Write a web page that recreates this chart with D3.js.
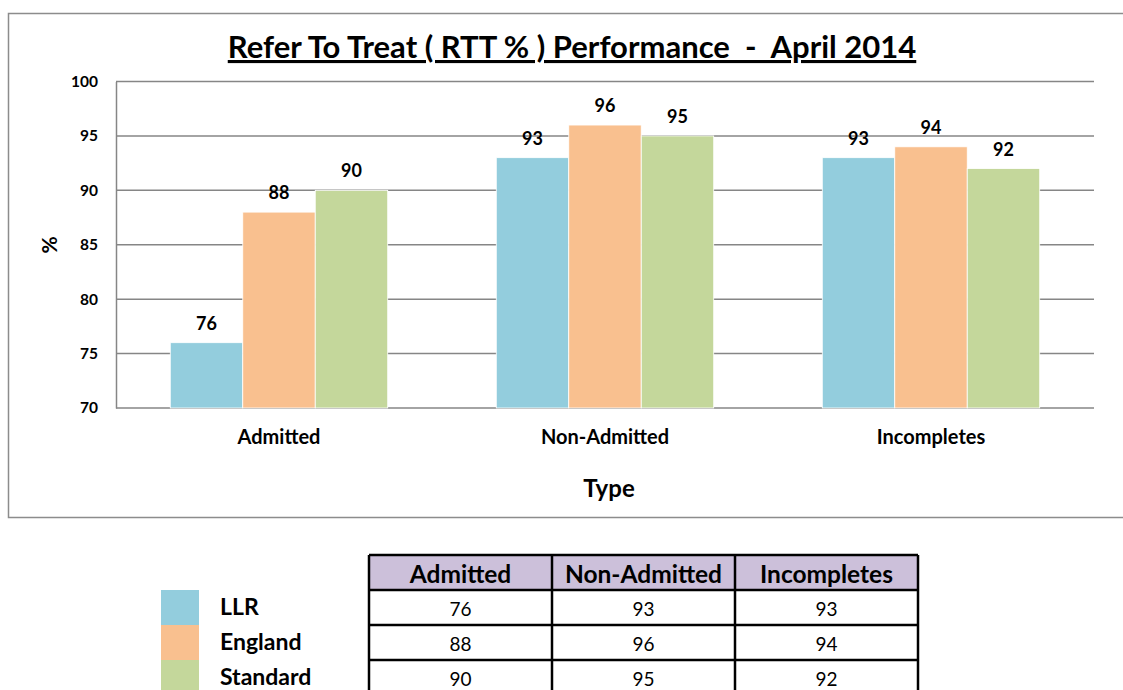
<!DOCTYPE html>
<html>
<head>
<meta charset="utf-8">
<script src="https://cdn.jsdelivr.net/npm/d3@7"></script>
<style>
  body { margin: 0; background: #fff; }
  svg text { font-family: Lato, "Open Sans", sans-serif; fill: #000; }
</style>
</head>
<body>
<svg id="chart" width="1123" height="690"></svg>
<script>
// data
const categories = ['Admitted', 'Non-Admitted', 'Incompletes'];
const seriesNames = ['LLR', 'England', 'Standard'];
const llr = [76, 93, 93];
const england = [88, 96, 94];
const standard = [90, 95, 92];
const yTicks = [70, 75, 80, 85, 90, 95, 100];
const colours = ['#93cddd', '#f9c08f', '#c4d79b'];

const seriesValues = [llr, england, standard];

const svg = d3.select('#chart');

// outer chart frame (right edge runs off the page)
svg.append('path')
    .attr('d', 'M1123,13.5 H8.5 V517.5 H1123')
    .attr('fill', 'none')
    .attr('stroke', '#8c8c8c')
    .attr('stroke-width', 1.5);

const plot = { left: 116, right: 1094, top: 81.5, bottom: 408 };

const yScale = d3.scaleLinear()
    .domain([70, 100])
    .range([plot.bottom, plot.top]);

// excel style gap width 150%
const x0 = d3.scaleBand()
    .domain(categories)
    .range([plot.left, plot.right])
    .paddingInner(0.333)
    .paddingOuter(0.1665);
const x1 = d3.scaleBand()
    .domain(seriesNames)
    .range([0, x0.bandwidth()]);

// gridlines
svg.append('g')
    .selectAll('line')
    .data(yTicks)
    .join('line')
    .attr('x1', plot.left)
    .attr('x2', plot.right)
    .attr('y1', d => yScale(d))
    .attr('y2', d => yScale(d))
    .attr('stroke', '#868686')
    .attr('stroke-width', 1.5);

// y axis
const yAxis = d3.axisLeft(yScale).tickValues(yTicks).tickSize(0).tickPadding(18);
const yg = svg.append('g')
    .attr('transform', `translate(${plot.left},0)`)
    .call(yAxis);
yg.select('.domain').attr('stroke', '#868686').attr('stroke-width', 1.5);
yg.selectAll('text')
    .attr('font-size', 15.5)
    .attr('font-weight', 'bold')
    .attr('font-family', 'Lato, sans-serif');

// x axis labels
const xAxis = d3.axisBottom(x0).tickSize(0).tickPadding(22);
const xg = svg.append('g')
    .attr('transform', `translate(0,${plot.bottom})`)
    .call(xAxis);
xg.select('.domain').remove();
xg.selectAll('text')
    .attr('font-size', 20)
    .attr('font-weight', 'bold')
    .attr('font-family', 'Lato, sans-serif');

// bars
const groups = svg.append('g')
    .selectAll('g')
    .data(categories)
    .join('g')
    .attr('transform', d => `translate(${x0(d)},0)`);

groups.selectAll('rect')
    .data((c, i) => seriesNames.map((s, j) => ({ s: s, v: seriesValues[j][i], j: j })))
    .join('rect')
    .attr('x', d => x1(d.s))
    .attr('y', d => yScale(d.v))
    .attr('width', x1.bandwidth())
    .attr('height', d => plot.bottom - yScale(d.v))
    .attr('fill', d => colours[d.j])
    .attr('stroke', '#fff')
    .attr('stroke-width', 0.8);

groups.selectAll('text.val')
    .data((c, i) => seriesNames.map((s, j) => ({ s: s, v: seriesValues[j][i] })))
    .join('text')
    .attr('class', 'val')
    .attr('x', d => x1(d.s) + x1.bandwidth() / 2)
    .attr('y', d => yScale(d.v) - 13)
    .attr('text-anchor', 'middle')
    .attr('font-size', 18)
    .attr('font-weight', 'bold')
    .text(d => d.v);

// title
svg.append('text')
    .attr('x', 572)
    .attr('y', 58)
    .attr('text-anchor', 'middle')
    .attr('font-size', 31)
    .attr('font-weight', 'bold')
    .attr('text-decoration', 'underline')
    .style('white-space', 'pre')
    .text('Refer To Treat ( RTT % ) Performance  -  April 2014');

// axis titles
svg.append('text')
    .attr('transform', 'translate(57,245) rotate(-90)')
    .attr('text-anchor', 'middle')
    .attr('font-size', 21)
    .attr('font-weight', 'bold')
    .text('%');

svg.append('text')
    .attr('x', 609)
    .attr('y', 497)
    .attr('text-anchor', 'middle')
    .attr('font-size', 24)
    .attr('font-weight', 'bold')
    .text('Type');

// data table
const tbl = { left: 369, top: 555, colW: 183, rowH: 35 };
const table = svg.append('g');

table.append('rect')
    .attr('x', tbl.left)
    .attr('y', tbl.top)
    .attr('width', tbl.colW * categories.length)
    .attr('height', tbl.rowH)
    .attr('fill', '#ccc0da');

categories.forEach((c, i) => {
    table.append('text')
        .attr('x', tbl.left + tbl.colW * i + tbl.colW / 2)
        .attr('y', tbl.top + 28)
        .attr('text-anchor', 'middle')
        .attr('font-size', 24.5)
        .attr('font-weight', 'bold')
        .text(c);
});

seriesValues.forEach((vals, r) => {
    vals.forEach((v, i) => {
        table.append('text')
            .attr('x', tbl.left + tbl.colW * i + tbl.colW / 2)
            .attr('y', tbl.top + tbl.rowH * (r + 1) + 26)
            .attr('text-anchor', 'middle')
            .attr('font-size', 19)
            .text(v);
    });
});

// table grid lines
for (let r = 0; r <= 4; r++) {
    table.append('line')
        .attr('x1', tbl.left).attr('x2', tbl.left + tbl.colW * 3)
        .attr('y1', tbl.top + tbl.rowH * r).attr('y2', tbl.top + tbl.rowH * r)
        .attr('stroke', '#000').attr('stroke-width', 2.5);
}
for (let c = 0; c <= 3; c++) {
    table.append('line')
        .attr('x1', tbl.left + tbl.colW * c).attr('x2', tbl.left + tbl.colW * c)
        .attr('y1', tbl.top).attr('y2', tbl.top + tbl.rowH * 4)
        .attr('stroke', '#000').attr('stroke-width', 2.5);
}

// legend keys beside the table
seriesNames.forEach((s, j) => {
    svg.append('rect')
        .attr('x', 161)
        .attr('y', tbl.top + tbl.rowH * (j + 1))
        .attr('width', 38)
        .attr('height', tbl.rowH)
        .attr('fill', colours[j]);
    svg.append('text')
        .attr('x', 220)
        .attr('y', tbl.top + tbl.rowH * (j + 1) + 25)
        .attr('font-size', 23)
        .attr('font-weight', 'bold')
        .text(s);
});
</script>
</body>
</html>
